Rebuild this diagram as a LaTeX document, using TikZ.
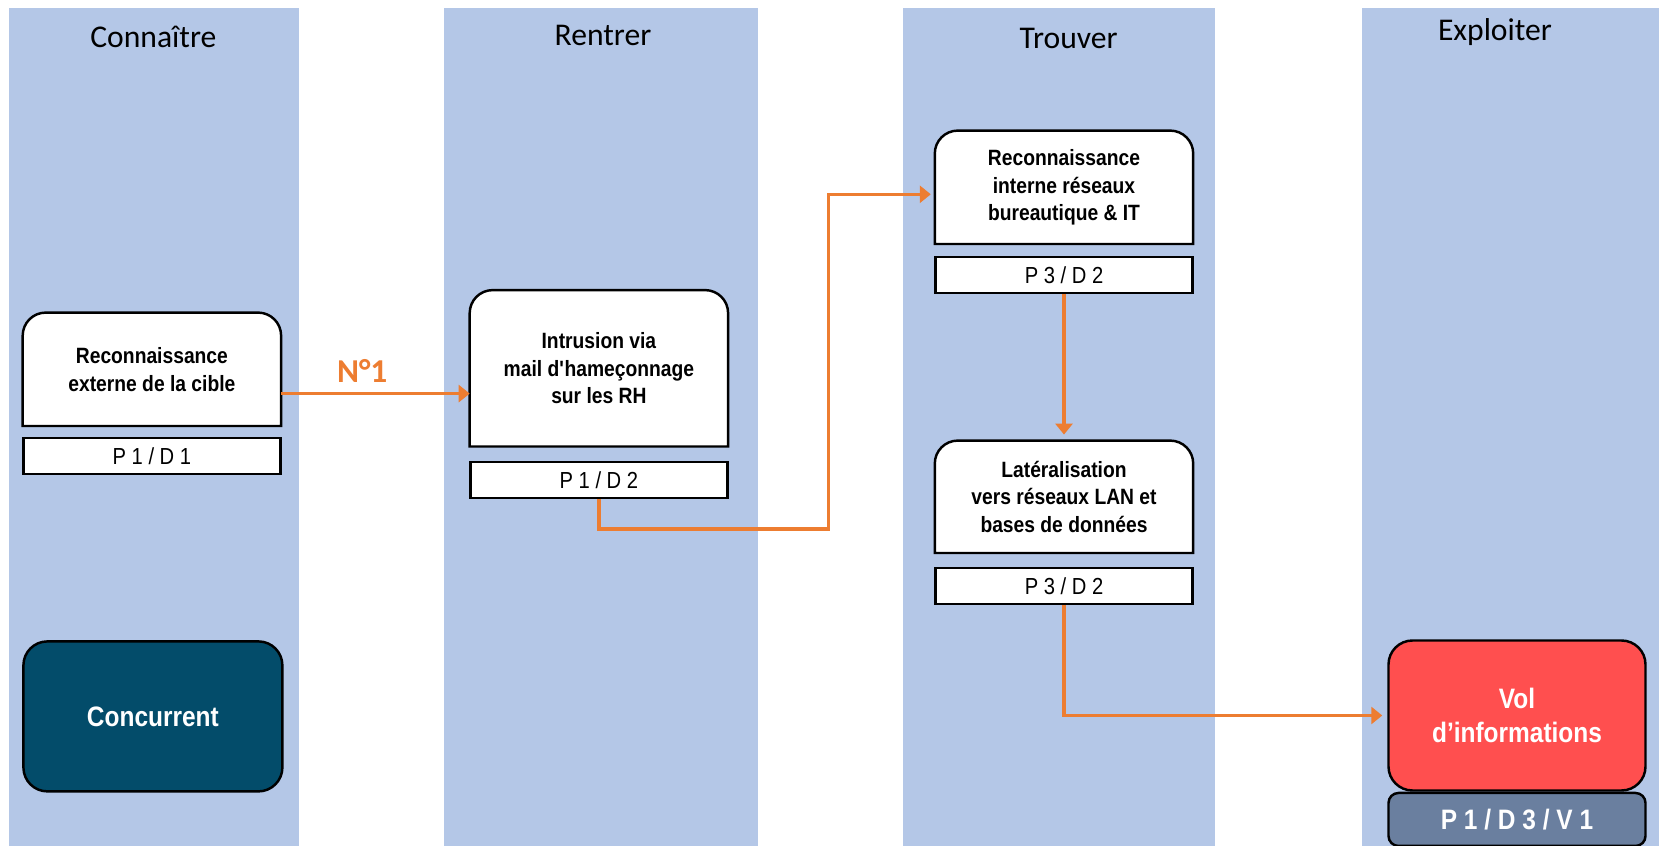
\documentclass[tikz,border=0pt]{standalone}
\usepackage{fontspec}
\setmainfont{Liberation Sans}
\newfontfamily\narrowfont[FakeStretch=0.87]{Liberation Sans}
\newfontfamily\titlefont{Carlito}
\usetikzlibrary{positioning,arrows.meta,backgrounds}
\definecolor{lane}{HTML}{B4C7E7}
\definecolor{flow}{HTML}{ED7D31}
\definecolor{actor}{HTML}{034C6A}
\definecolor{goal}{HTML}{FF4F4F}
\definecolor{score}{HTML}{6A7F9F}
\tikzset{
  stepbox/.style={rectangle,minimum width=2.57cm,minimum height=1.12cm,inner sep=0pt,
    align=center,font=\narrowfont\bfseries\fontsize{6.3}{7.9}\selectfont},
  tagbox/.style={rectangle,draw,line width=0.7pt,fill=white,minimum width=2.57cm,
    minimum height=0.36cm,inner sep=0pt,font=\narrowfont\fontsize{6.6}{7.5}\selectfont},
  endbox/.style={rectangle,draw,line width=0.7pt,rounded corners=2.4mm,minimum width=2.57cm,
    minimum height=1.5cm,inner sep=0pt,align=center,text=white,
    font=\narrowfont\bfseries\fontsize{8}{9.9}\selectfont},
  lanetitle/.style={font=\titlefont\fontsize{9}{11}\selectfont},
  flowline/.style={draw=flow,line width=0.95pt,-{Triangle[length=1.1mm,width=1.7mm]}}
}
\begin{document}
\begin{tikzpicture}
    \useasboundingbox (0,0) rectangle (16.59,-8.46);
    % lane titles
    \node[lanetitle] (t1) at (1.534,-0.37) {Connaître};
    \node[lanetitle] (t2) at (6.03,-0.35) {Rentrer};
    \node[lanetitle] (t3) at (10.687,-0.38) {Trouver};
    \node[lanetitle] (t4) at (14.95,-0.317) {Exploiter};
    % steps
    \node[stepbox] (recon) at (1.519,-3.693) {Reconnaissance\\externe de la cible};
    \node[tagbox,below=0.11cm of recon] (recon-tag) {P 1 / D 1};
    \node[stepbox,minimum height=1.55cm] (intru) at (5.989,-3.683)
        {Intrusion via\\mail d\textquotesingle hameçonnage\\sur les RH};
    \node[tagbox,below=0.14cm of intru] (intru-tag) {P 1 / D 2};
    \node[stepbox] (scan) at (10.64,-1.873) {Reconnaissance\\interne réseaux\\bureautique \& IT};
    \node[tagbox,below=0.12cm of scan] (scan-tag) {P 3 / D 2};
    \node[stepbox,minimum height=1.11cm] (lateral) at (10.64,-4.968)
        {Latéralisation\\vers réseaux LAN et\\bases de données};
    \node[tagbox,below=0.14cm of lateral] (lateral-tag) {P 3 / D 2};
    % source and target
    \node[endbox,fill=actor,minimum width=2.59cm] (rival) at (1.529,-7.164) {Concurrent};
    \node[endbox,fill=goal] (vol) at (15.17,-7.155) {Vol\\d’informations};
    \node[endbox,fill=score,rounded corners=1mm,minimum height=0.53cm,below=0cm of vol]
        (vol-tag) {P 1 / D 3 / V 1};
    \coordinate (bend) at (8.285,-5.29);
    \begin{pgfonlayer}{background}
        \fill[lane] (0.085,-0.08) rectangle (2.994,-8.46);
        \fill[lane] (4.444,-0.08) rectangle (7.576,-8.46);
        \fill[lane] (9.026,-0.08) rectangle (12.147,-8.46);
        \fill[lane] (13.618,-0.08) rectangle (16.59,-8.46);
        \foreach \n in {recon,intru,scan,lateral}
            \draw[line width=0.7pt,fill=white] (\n.south west) -- ([yshift=-2.3mm]\n.north west)
                arc[start angle=180,end angle=90,radius=2.3mm] -- ([xshift=-2.3mm]\n.north east)
                arc[start angle=90,end angle=0,radius=2.3mm] -- (\n.south east) -- cycle;
    \end{pgfonlayer}
    % attack path
    \draw[flowline] ([yshift=-2.43mm]recon.east) -- ([yshift=-2.43mm]recon.east -| intru.west)
        node[pos=0.43,yshift=2.3mm,text=flow,font=\titlefont\bfseries\fontsize{9.5}{11}\selectfont] (n1) {N°1};
    \draw[flowline,shorten >=0.4mm] (intru-tag.south) |- (bend) |- ([yshift=-0.7mm]scan.west);
    \draw[flowline,shorten >=0.6mm] (scan-tag.south) -- (lateral.north);
    \draw[flowline,shorten >=0.5mm] (lateral-tag.south) |- (vol.west);
\end{tikzpicture}
\end{document}
